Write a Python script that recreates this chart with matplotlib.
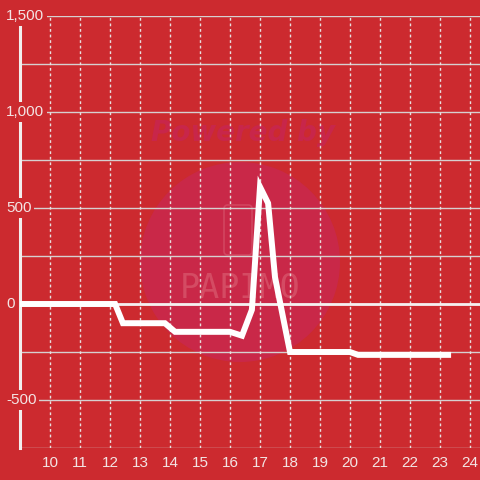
import matplotlib
matplotlib.use('Agg')
import matplotlib.pyplot as plt
from matplotlib.patches import Circle, FancyBboxPatch

# hour of day vs value
hours = [9.0, 12.17, 12.43, 13.83, 14.17, 16.0, 16.4, 16.73, 17.0, 17.27, 17.5, 18.0, 20.0, 20.27, 23.27]
values = [0, 0, -100, -100, -145, -145, -165, -30, 610, 525, 140, -250, -250, -265, -265]

x_ticks = list(range(10, 25))
y_labels = {-500: '-500', 0: '0', 500: '500', 1000: '1,000', 1500: '1,500'}

bg = '#cc2a2f'
plt.rcParams['font.family'] = ['Liberation Sans', 'DejaVu Sans']

fig = plt.figure(figsize=(4.8, 4.8), dpi=100, facecolor=bg)
ax = fig.add_axes([20 / 480, 32 / 480, 460 / 480, 432 / 480])
ax.set_facecolor(bg)
ax.set_xlim(9, 9 + 460 / 30)
ax.set_ylim(-750, 1500)

# watermark
ax.add_patch(Circle((240 / 480, 1 - 262 / 480), 100 / 480, transform=fig.transFigure,
                    facecolor='#c92848', edgecolor='none', zorder=0.1))
ax.add_patch(FancyBboxPatch((224 / 480, 1 - 255 / 480), 28 / 480, 50 / 480,
                            boxstyle='round,pad=0,rounding_size=0.008', transform=fig.transFigure,
                            facecolor='none', edgecolor='#d24560', lw=1.2, zorder=0.2))
ax.text(243 / 480, 1 - 133 / 480, 'Powered by', transform=fig.transFigure, ha='center', va='center',
        fontsize=20, fontweight='bold', style='italic', color='#c8264a', zorder=0.2, family='DejaVu Sans')
ax.text(240 / 480, 1 - 288 / 480, 'PAPIMO', transform=fig.transFigure, ha='center', va='center',
        fontsize=24, color='#d44b63', zorder=0.2, family='DejaVu Sans Mono')

# grid
for yv in range(-750, 1501, 250):
    ax.axhline(yv, color='#d6d0d0', lw=1, zorder=0.5)
for xv in x_ticks:
    ax.axvline(xv, color='#e8e0e0', lw=1, ls=(0, (2, 2)), zorder=0.5)
ax.axhline(0, color='#f5f0f0', lw=2, zorder=0.6)

ax.plot(hours, values, color='white', lw=4.3, solid_joinstyle='miter', zorder=3)

for s in ['top', 'right', 'bottom']:
    ax.spines[s].set_visible(False)
ax.spines['left'].set_color('#f2eeee')
ax.spines['left'].set_linewidth(2.2)
ax.spines['left'].set_zorder(2)

ax.set_xticks(x_ticks)
ax.set_xticklabels([str(t) for t in x_ticks])
ax.set_yticks([])
ax.tick_params(axis='x', length=0, pad=6, labelsize=11, labelcolor='#f3e4e4')

for yv, lab in y_labels.items():
    ax.text(-14 / 460, yv, lab, transform=ax.get_yaxis_transform(), ha='left', va='center',
            fontsize=11, color='#f3e4e4', zorder=4,
            bbox=dict(facecolor=bg, edgecolor='none', pad=2))

fig.savefig('out.png', dpi=100, facecolor=bg)
